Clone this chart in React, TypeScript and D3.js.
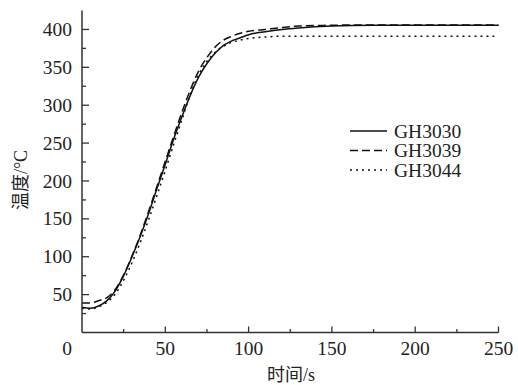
import React from "react";
import * as d3 from "d3";

// Heating curves of three superalloys: time (s) vs. temperature (°C)
const times = [0, 5, 10, 15, 20, 25, 30, 35, 40, 45, 50, 55, 60, 65, 70, 75, 80, 85, 90, 95, 100, 110, 120, 130, 150, 175, 200, 225, 250];
const gh3030 = [33, 32, 35, 42, 55, 75, 100, 127, 157, 190, 222, 255, 285, 313, 337, 355, 369, 379, 385, 389, 393, 397, 400, 402, 404.5, 405.5, 405.5, 405.5, 405.5];
const gh3039 = [39, 39, 42, 46, 57, 76, 101, 129, 160, 193, 226, 259, 291, 320, 345, 363, 377, 386, 391, 395, 397.5, 400, 402.5, 404.5, 405.5, 406, 406, 406, 406];
const gh3044 = [32, 31, 34, 40, 51, 69, 92, 119, 149, 181, 214, 248, 281, 314, 340, 358, 370, 378, 383, 386, 388, 390, 391, 391, 391, 391, 391, 391, 391];

const seriesNames = ["GH3030", "GH3039", "GH3044"];
const seriesValues = [gh3030, gh3039, gh3044];
const dashes = [null, "8,4", "2,4"];

const xTicks = [0, 50, 100, 150, 200, 250];
const yTicks = [50, 100, 150, 200, 250, 300, 350, 400];
const xMinor = [25, 75, 125, 175, 225];
const yMinor = [25, 75, 125, 175, 225, 275, 325, 375];

const W = 518;
const H = 385;
const left = 82;
const right = 498.5;
const bottom = 332.5;
const top = 10.5;

const serif = '"Liberation Serif", "DejaVu Serif", "Noto Sans CJK SC", serif';
const axisColor = "#333";
const textStyle = { fontFamily: serif };
const fs = 19.5;

export default function App() {
  const x = d3.scaleLinear().domain([0, 250]).range([left, right]);
  const y = d3.scaleLinear().domain([0, 425]).range([bottom, top]);
  const line = d3
    .line<number>()
    .x((_, i) => x(times[i]))
    .y((d) => y(d))
    .curve(d3.curveMonotoneX);

  return (
    <svg
      width={W}
      height={H}
      style={{ position: "absolute", left: 0, top: 0, background: "#fff" }}
    >
      <rect x={0} y={0} width={W} height={H} fill="#fff" />

      {/* curves */}
      {seriesValues.map((vals, i) => (
        <path
          key={seriesNames[i]}
          d={line(vals) || ""}
          fill="none"
          stroke="#111"
          strokeWidth={1.5}
          strokeDasharray={dashes[i] || undefined}
        />
      ))}

      {/* axes */}
      <line x1={left} x2={left} y1={top} y2={bottom} stroke={axisColor} strokeWidth={1.5} />
      <line x1={left} x2={right} y1={bottom} y2={bottom} stroke={axisColor} strokeWidth={1.5} />

      {xTicks.slice(1).map((t) => (
        <g key={"xt" + t}>
          <line x1={x(t)} x2={x(t)} y1={bottom} y2={bottom - 6} stroke={axisColor} strokeWidth={1.3} />
          <text x={x(t)} y={355} textAnchor="middle" fontSize={fs} fill="#222" style={textStyle}>
            {t}
          </text>
        </g>
      ))}
      {xMinor.map((t) => (
        <line key={"xm" + t} x1={x(t)} x2={x(t)} y1={bottom} y2={bottom - 3.5} stroke={axisColor} strokeWidth={1.3} />
      ))}
      <text x={67} y={355} textAnchor="middle" fontSize={fs} fill="#222" style={textStyle}>
        0
      </text>

      {yTicks.map((t) => (
        <g key={"yt" + t}>
          <line x1={left} x2={left + 7} y1={y(t)} y2={y(t)} stroke={axisColor} strokeWidth={1.3} />
          <text x={72} y={y(t)} dy="0.34em" textAnchor="end" fontSize={fs} fill="#222" style={textStyle}>
            {t}
          </text>
        </g>
      ))}
      {yMinor.map((t) => (
        <line key={"ym" + t} x1={left} x2={left + 4} y1={y(t)} y2={y(t)} stroke={axisColor} strokeWidth={1.3} />
      ))}

      {/* axis titles */}
      <text x={291} y={381} textAnchor="middle" fontSize={18} fill="#222" style={textStyle}>
        时间/s
      </text>
      <text
        transform="translate(27,180) rotate(-90)"
        textAnchor="middle"
        fontSize={18}
        fill="#222"
        style={textStyle}
      >
        温度/°C
      </text>

      {/* legend */}
      {seriesNames.map((name, i) => {
        const ly = 131 + i * 19.5;
        return (
          <g key={"lg" + name}>
            <line
              x1={350}
              x2={387}
              y1={ly}
              y2={ly}
              stroke="#111"
              strokeWidth={1.5}
              strokeDasharray={dashes[i] || undefined}
            />
            <text x={394} y={ly} dy="0.35em" fontSize={fs} fill="#222" style={textStyle}>
              {name}
            </text>
          </g>
        );
      })}
    </svg>
  );
}
